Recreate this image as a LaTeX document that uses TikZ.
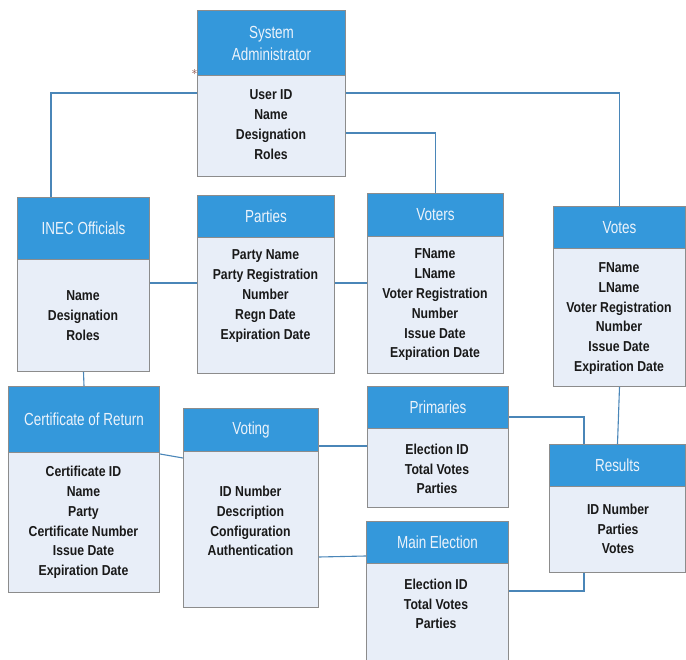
\documentclass[tikz,border=0pt]{standalone}
\usepackage{fontspec}
\newfontfamily\hdrfont{Liberation Sans}[FakeStretch=0.77]
\newfontfamily\attfont{Liberation Sans Bold}[FakeStretch=0.85]
\definecolor{hdrblue}{RGB}{52,152,219}
\definecolor{bodyfill}{RGB}{232,238,248}
\definecolor{bordergray}{RGB}{140,140,140}
\definecolor{connblue}{RGB}{74,134,184}
\definecolor{titlewhite}{RGB}{236,243,251}
\definecolor{starred}{RGB}{110,40,30}
\tikzset{
  hdr/.style={draw=bordergray, fill=hdrblue, line width=1pt, inner sep=0pt, anchor=north west,
    text=titlewhite, font=\hdrfont\fontsize{17.5}{22}\selectfont, align=center},
  bdy/.style={draw=bordergray, fill=bodyfill, line width=1pt, inner sep=0pt, anchor=north west},
  att/.style={font=\attfont\fontsize{14.4}{19.8}\selectfont, align=center, text=black!90, inner sep=0pt},
  conn/.style={draw=connblue, line width=1.1pt}
}
\begin{document}
\begin{tikzpicture}[x=1pt,y=-1pt]
\useasboundingbox (0,0) rectangle (686,660);
% System Administrator
\node[bdy, minimum width=148pt, minimum height=101pt] (saB) at (197,75) {};
\node[hdr, minimum width=148pt, minimum height=65pt] (saH) at (197,10) {System\\Administrator};
\node[att] (saT) at (271,124.5) {User ID\\Name\\Designation\\Roles};
% INEC Officials
\node[bdy, minimum width=132pt, minimum height=112pt] (inB) at (17,259) {};
\node[hdr, minimum width=132pt, minimum height=62pt] (inH) at (17,197) {INEC Officials};
\node[att] (inT) at (83,315.5) {Name\\Designation\\Roles};
% Parties
\node[bdy, minimum width=137pt, minimum height=136pt] (paB) at (197,237) {};
\node[hdr, minimum width=137pt, minimum height=42pt] (paH) at (197,195) {Parties};
\node[att] (paT) at (265.5,296) {Party Name\\Party Registration\\Number\\Regn Date\\Expiration Date};
% Voters
\node[bdy, minimum width=136pt, minimum height=137pt] (voB) at (367,236) {};
\node[hdr, minimum width=136pt, minimum height=43pt] (voH) at (367,193) {Voters};
\node[att] (voT) at (435,305) {FName\\LName\\Voter Registration\\Number\\Issue Date\\Expiration Date};
% Votes
\node[bdy, minimum width=132pt, minimum height=138pt] (vtB) at (553,248) {};
\node[hdr, minimum width=132pt, minimum height=42pt] (vtH) at (553,206) {Votes};
\node[att] (vtT) at (619,318.5) {FName\\LName\\Voter Registration\\Number\\Issue Date\\Expiration Date};
% Certificate of Return
\node[bdy, minimum width=151pt, minimum height=140pt] (ceB) at (8,452) {};
\node[hdr, minimum width=151pt, minimum height=66pt] (ceH) at (8,386) {Certificate of Return};
\node[att] (ceT) at (83.5,522.5) {Certificate ID\\Name\\Party\\Certificate Number\\Issue Date\\Expiration Date};
% Voting
\node[bdy, minimum width=135pt, minimum height=156pt] (vgB) at (183,451) {};
\node[hdr, minimum width=135pt, minimum height=43pt] (vgH) at (183,408) {Voting};
\node[att] (vgT) at (250.5,521) {ID Number\\Description\\Configuration\\Authentication};
% Primaries
\node[bdy, minimum width=141pt, minimum height=79pt] (prB) at (367,428) {};
\node[hdr, minimum width=141pt, minimum height=42pt] (prH) at (367,386) {Primaries};
\node[att] (prT) at (437,469) {Election ID\\Total Votes\\Parties};
% Main Election
\node[bdy, minimum width=142pt, minimum height=99pt] (meB) at (366,563) {};
\node[hdr, minimum width=142pt, minimum height=42pt] (meH) at (366,521) {Main Election};
\node[att] (meT) at (436,604) {Election ID\\Total Votes\\Parties};
% Results
\node[bdy, minimum width=136pt, minimum height=86pt] (reB) at (549,486) {};
\node[hdr, minimum width=136pt, minimum height=42pt] (reH) at (549,444) {Results};
\node[att] (reT) at (618,529) {ID Number\\Parties\\Votes};
% star
\node[inner sep=0pt, text=starred, font=\fontsize{12}{12}\selectfont] (star) at (194.5,74) {*};
% connectors
\draw[conn] (saB.west |- 0,93) -| (inH.north -| 51,0);
\draw[conn] (saB.east |- 0,93) -| (vtH.north);
\draw[conn] (saB.east |- 0,133) -| (voH.north);
\draw[conn] (inB.east |- 0,283) -- (paB.west |- 0,283);
\draw[conn] (paB.east |- 0,283) -- (voB.west |- 0,283);
\draw[conn] (inB.south) -- (ceH.north);
\draw[conn] (ceB.east |- 0,454) -- (vgB.west |- 0,458);
\draw[conn] (vgB.east |- 0,446) -- (prB.west |- 0,446);
\draw[conn] (vgB.east |- 0,557) -- (meH.west |- 0,556);
\draw[conn] (vtB.south) -- (reH.north);
\draw[conn] (prH.east |- 0,417) -| (reH.north -| 584,0);
\draw[conn] (meB.east |- 0,591) -| (reB.south -| 584,0);
\end{tikzpicture}
\end{document}
